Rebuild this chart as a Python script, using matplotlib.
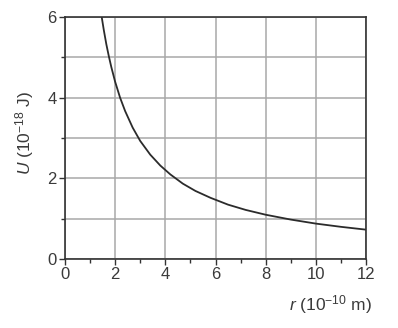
import matplotlib
matplotlib.use("Agg")
import matplotlib.pyplot as plt

# values
r_vals = [1.47, 1.55, 1.65, 1.75, 1.85, 2.0, 2.2, 2.4, 2.7, 3.0, 3.4, 3.8, 4.2, 4.7,
          5.2, 5.8, 6.5, 7.2, 8.0, 9.0, 10.0, 11.0, 12.0]
u_vals = [5.99, 5.68, 5.33, 5.03, 4.76, 4.40, 4.00, 3.67, 3.26, 2.93, 2.59, 2.32, 2.10, 1.87,
          1.69, 1.52, 1.35, 1.22, 1.10, 0.98, 0.88, 0.80, 0.73]

x_ticks = [0, 2, 4, 6, 8, 10, 12]
y_ticks = [0, 2, 4, 6]

plt.rcParams['font.family'] = ['Liberation Sans', 'DejaVu Sans']
plt.rcParams['mathtext.fontset'] = 'custom'
plt.rcParams['mathtext.rm'] = 'Liberation Sans'
plt.rcParams['mathtext.it'] = 'Liberation Sans:italic'

txt = '#3a3a3a'
fig = plt.figure(figsize=(3.98, 3.28), dpi=100)
ax = fig.add_axes([0.163, 0.210, 0.757, 0.738])

ax.plot(r_vals, u_vals, color='#2b2b2b', lw=1.3, zorder=3)

ax.set_xlim(0, 12)
ax.set_ylim(0, 6)
ax.set_xticks(x_ticks)
ax.set_yticks(y_ticks)
ax.set_xticks(range(1, 12, 2), minor=True)
ax.set_yticks([1, 3, 5], minor=True)
ax.grid(True, which='major', color='#a8a8a8', lw=1.1, zorder=1)
ax.grid(True, which='minor', axis='y', color='#a8a8a8', lw=1.1, zorder=1)
ax.tick_params(which='major', length=4, width=1, color='#333333', labelsize=12,
               labelcolor=txt, pad=2)
ax.tick_params(which='minor', length=3, width=1, color='#333333')
for s in ax.spines.values():
    s.set_color('#333333')
    s.set_linewidth(1.2)
    s.set_zorder(4)

ax.set_xlabel(r'$\mathit{r}$ (10$^{-10}$ m)', fontsize=12.5, color=txt)
ax.xaxis.set_label_coords(1.02, -0.14)
ax.xaxis.label.set_ha('right')
ax.set_ylabel(r'$\mathit{U}$ (10$^{-18}$ J)', fontsize=12.5, color=txt)
ax.yaxis.set_label_coords(-0.095, 0.52)

fig.savefig('out.png', dpi=100)
